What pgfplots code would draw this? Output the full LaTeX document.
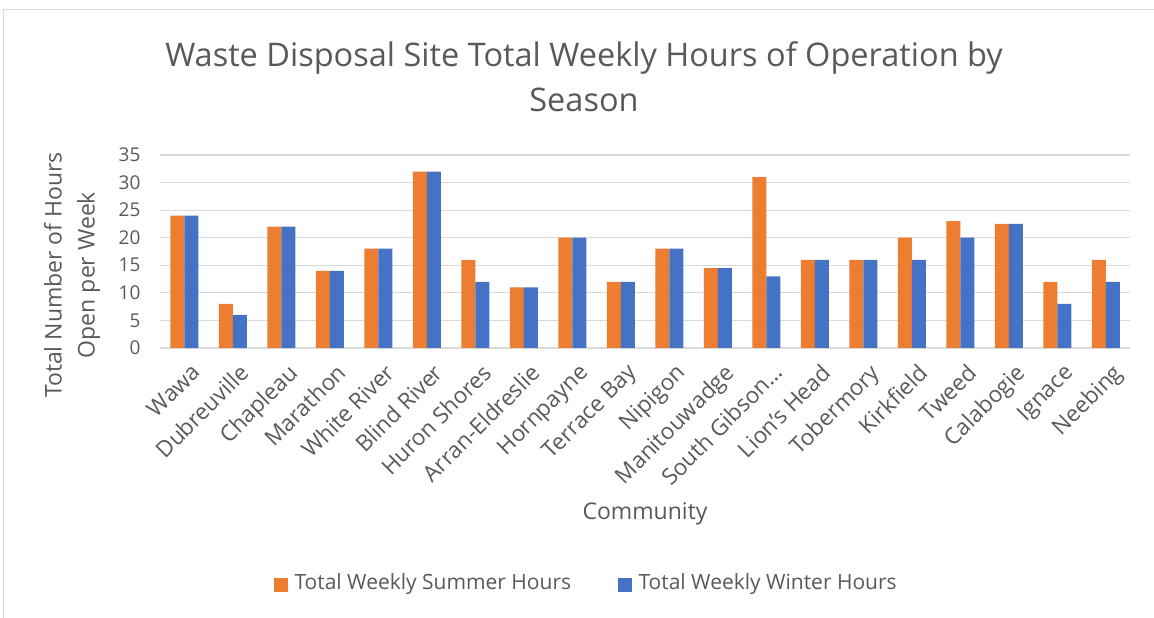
\documentclass[border=0pt]{standalone}
\usepackage{fontspec}
\setmainfont{Open Sans}
\usepackage{pgfplots}
\pgfplotsset{compat=1.18}
\usepackage{pgfplotstable}
\definecolor{cOr}{HTML}{ED7D31}
\definecolor{cBl}{HTML}{4472C4}
\definecolor{cTx}{HTML}{595959}
\definecolor{cGr}{HTML}{D9D9D9}
\pgfplotstableread{
x summer winter
0 24 24
1 8 6
2 22 22
3 14 14
4 18 18
5 32 32
6 16 12
7 11 11
8 20 20
9 12 12
10 18 18
11 14.5 14.5
12 31 13
13 16 16
14 16 16
15 20 16
16 23 20
17 22.5 22.5
18 12 8
19 16 12
}\data
\begin{document}
\begin{tikzpicture}[x=1pt,y=1pt]
\path[use as bounding box] (0,0) rectangle (1154,618);
\draw[cGr,line width=1pt] (3,0) -- (3,608) -- (1154,608);
\node[cTx,font=\fontsize{32.5}{45}\selectfont,align=center] at (584,541) {Waste Disposal Site Total Weekly Hours of Operation by\\Season};
\begin{axis}[
  at={(160pt,270pt)}, anchor=south west,
  width=970pt, height=193pt, scale only axis,
  ymin=0, ymax=35, ytick={0,5,...,35},
  xmin=-0.5, xmax=19.5,
  xtick=data,
  xticklabels={Wawa,Dubreuville,Chapleau,Marathon,White River,Blind River,Huron Shores,Arran-Eldreslie,Hornpayne,Terrace Bay,Nipigon,Manitouwadge,South Gibson\ldots,Lion's Head,Tobermory,Kirkfield,Tweed,Calabogie,Ignace,Neebing},
  x tick label style={rotate=45, anchor=north east, inner sep=1pt, font=\fontsize{22.5}{26}\selectfont, text=cTx, yshift=-13pt, xshift=-5pt},
  y tick label style={font=\fontsize{19}{22}\selectfont, text=cTx, xshift=-16pt},
  /pgf/number format/assume math mode=true,
  axis line style={draw=none},
  major tick length=0pt,
  ymajorgrids, grid style={cGr, line width=1.2pt},
  ybar, bar width=14pt,
  clip=false,
]
\addplot[fill=cOr, draw=none, bar shift=-7pt] table[x=x,y=summer]{\data};
\addplot[fill=cBl, draw=none, bar shift=7pt] table[x=x,y=winter]{\data};
\end{axis}
\node[cTx,font=\fontsize{23}{33}\selectfont,rotate=90,align=center] at (72,343) {Total Number of Hours\\Open per Week};
\node[cTx,font=\fontsize{23}{27}\selectfont] at (645,104) {Community};
\fill[cOr] (274,26) rectangle (288,40);
\node[cTx,font=\fontsize{21}{25}\selectfont,anchor=west] at (291,34) {Total Weekly Summer Hours};
\fill[cBl] (618,26) rectangle (632,40);
\node[cTx,font=\fontsize{21}{25}\selectfont,anchor=west] at (635,34) {Total Weekly Winter Hours};
\end{tikzpicture}
\end{document}
